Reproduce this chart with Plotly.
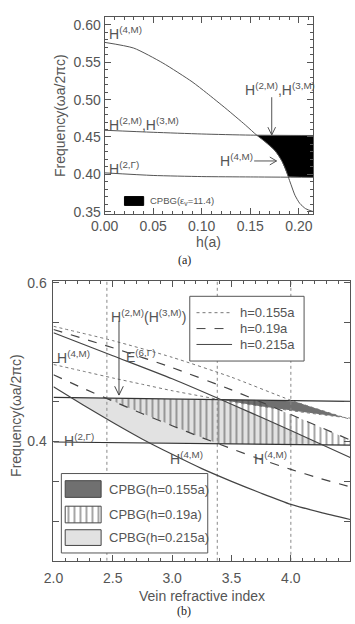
import numpy as np
import plotly.graph_objects as go

W, H = 355, 624

# ---------------- Panel (a) data ----------------
h_a = [0.0, 0.05, 0.10, 0.15, 0.215]
H2M_a = [0.459, 0.4563, 0.4540, 0.4525, 0.452]
H2G_a = [0.402, 0.3985, 0.3970, 0.3965, 0.396]
h_4m = [0.0, 0.03, 0.06, 0.09, 0.105, 0.125, 0.145, 0.157, 0.167, 0.176, 0.182,
        0.186, 0.189, 0.192, 0.196, 0.201, 0.207, 0.215]
H4M_a = [0.5767, 0.569, 0.549, 0.524, 0.509, 0.488, 0.466, 0.452, 0.442, 0.431, 0.419,
         0.408, 0.397, 0.386, 0.372, 0.361, 0.354, 0.350]
xa_ticks = [0.00, 0.05, 0.10, 0.15, 0.20]
xa_text = ["0.00", "0.05", "0.10", "0.15", "0.20"]
ya_ticks = [0.35, 0.40, 0.45, 0.50, 0.55, 0.60]
ya_text = ["0.35", "0.40", "0.45", "0.50", "0.55", "0.60"]

# ---------------- Panel (b) data ----------------
n_hl = [2.0, 4.5]
H2M_b = [0.4555, 0.4505]
H2G_b = [0.3995, 0.3955]
n_up = [2.0, 2.5, 3.0, 3.5, 4.0, 4.5]
E6_155 = [0.545, 0.527, 0.506, 0.481, 0.452, 0.428]
E6_19 = [0.541, 0.518, 0.493, 0.465, 0.434, 0.402]
E6_215 = [0.537, 0.508, 0.479, 0.447, 0.414, 0.380]
n_lo = [2.0, 2.25, 2.5, 2.75, 3.0, 3.25, 3.5, 3.75, 4.0, 4.25, 4.5]
H4_155 = [0.497, 0.4885, 0.480, 0.472, 0.464, 0.457, 0.450, 0.4443, 0.439, 0.434, 0.4295]
H4_19 = [0.484, 0.467, 0.451, 0.435, 0.420, 0.405, 0.391, 0.3775, 0.365, 0.3535, 0.343]
H4_215 = [0.469, 0.446, 0.424, 0.403, 0.384, 0.366, 0.350, 0.335, 0.321, 0.311, 0.302]
vlines_b = [2.45, 3.38, 4.0]
xb_ticks = [2.0, 2.5, 3.0, 3.5, 4.0, 4.5]
xb_text = ["2.0", "2.5", "3.0", "3.5", "4.0", "4.5"]
yb_ticks = [0.4, 0.6]
yb_text = ["0.4", "0.6"]
legend_h = ["h=0.155a", "h=0.19a", "h=0.215a"]
legend_cpbg = ["CPBG(h=0.155a)", "CPBG(h=0.19a)", "CPBG(h=0.215a)"]

# ---------------- layout geometry (pixels) ----------------
A_X0, A_X1, A_Y0, A_Y1 = 94.3, 311.7, 11.7, 212.0
B_X0, B_X1, B_Y0, B_Y1 = 41.1, 350.0, 280.0, 565.7
A_XR, A_YR = [0.0, 0.215], [0.347, 0.61]
B_XR, B_YR = [2.0, 4.5], [0.25, 0.6025]


def ax_(px):
    return A_XR[0] + (px - A_X0) / (A_X1 - A_X0) * (A_XR[1] - A_XR[0])


def ay_(py):
    return A_YR[1] - (py - A_Y0) / (A_Y1 - A_Y0) * (A_YR[1] - A_YR[0])


def bx_(px):
    return B_XR[0] + (px - B_X0) / (B_X1 - B_X0) * (B_XR[1] - B_XR[0])


def by_(py):
    return B_YR[1] - (py - B_Y0) / (B_Y1 - B_Y0) * (B_YR[1] - B_YR[0])


def PX(px):
    return px / W


def PY(py):
    return 1 - py / H


LC = "#444"
AXC = "#555"
FONT = "Liberation Sans, Arial, sans-serif"

fig = go.Figure()


def region(xgrid, top, bot):
    m = top > bot
    xs = xgrid[m]
    return np.concatenate([xs, xs[::-1]]), np.concatenate([top[m], bot[m][::-1]])


# ---------------- Panel (a) ----------------
ga = np.linspace(0.10, 0.215, 600)
top_a = np.interp(ga, h_a, H2M_a)
bot_a = np.maximum(np.interp(ga, h_4m, H4M_a), np.interp(ga, h_a, H2G_a))
rx, ry = region(ga, top_a, bot_a)
fig.add_trace(go.Scatter(x=rx, y=ry, fill="toself", fillcolor="black", mode="lines",
                         line=dict(width=0), xaxis="x", yaxis="y", hoverinfo="skip"))
for yy, xx in [(H4M_a, h_4m), (H2M_a, h_a), (H2G_a, h_a)]:
    fig.add_trace(go.Scatter(x=xx, y=yy, mode="lines",
                             line=dict(color="#555", width=1, shape="spline", smoothing=0.6),
                             xaxis="x", yaxis="y", hoverinfo="skip"))
# legend swatch (a)
sx0, sx1, sy0, sy1 = ax_(115), ax_(135), ay_(194.3), ay_(203.3)
fig.add_trace(go.Scatter(x=[sx0, sx1, sx1, sx0, sx0], y=[sy0, sy0, sy1, sy1, sy0], fill="toself",
                         fillcolor="black", mode="lines", line=dict(color="black", width=1),
                         xaxis="x", yaxis="y", hoverinfo="skip"))

# ---------------- Panel (b) ----------------
gb = np.linspace(2.0, 4.5, 1201)
h2m = np.interp(gb, n_hl, H2M_b)
h2g = np.interp(gb, n_hl, H2G_b)
regs = []
for up, lo in [(E6_215, H4_215), (E6_155, H4_155), (E6_19, H4_19)]:
    t = np.minimum(h2m, np.interp(gb, n_up, up))
    b = np.maximum(h2g, np.interp(gb, n_lo, lo))
    regs.append(region(gb, t, b))
# light gray (0.215)
fig.add_trace(go.Scatter(x=regs[0][0], y=regs[0][1], fill="toself", fillcolor="#e2e2e2",
                         mode="lines", line=dict(width=0), xaxis="x2", yaxis="y2", hoverinfo="skip"))
# dark gray (0.155)
fig.add_trace(go.Scatter(x=regs[1][0], y=regs[1][1], fill="toself", fillcolor="#707070",
                         mode="lines", line=dict(width=0), xaxis="x2", yaxis="y2", hoverinfo="skip"))
# hatched (0.19)
hatch = dict(shape="|", size=6, solidity=0.16, fgcolor="#444", bgcolor="rgba(0,0,0,0)", fillmode="replace")
fig.add_trace(go.Scatter(x=regs[2][0], y=regs[2][1], fill="toself", fillcolor="rgba(0,0,0,0)",
                         fillpattern=hatch, mode="lines", line=dict(width=0),
                         xaxis="x2", yaxis="y2", hoverinfo="skip"))
# vertical dotted lines
for v in vlines_b:
    fig.add_trace(go.Scatter(x=[v, v], y=B_YR, mode="lines", line=dict(color="#888", width=1, dash="dot"),
                             xaxis="x2", yaxis="y2", hoverinfo="skip"))
# horizontal lines
for yy in [H2M_b, H2G_b]:
    fig.add_trace(go.Scatter(x=n_hl, y=yy, mode="lines", line=dict(color="#333", width=1.2),
                             xaxis="x2", yaxis="y2", hoverinfo="skip"))
dashes = ["dot", "dash", "solid"]
for up, lo, d in [(E6_155, H4_155, "dot"), (E6_19, H4_19, "dash"), (E6_215, H4_215, "solid")]:
    w = 1.0 if d == "dot" else 1.2
    c = "#777" if d == "dot" else LC
    fig.add_trace(go.Scatter(x=n_up, y=up, mode="lines",
                             line=dict(color=c, width=w, dash=d, shape="spline", smoothing=0.6),
                             xaxis="x2", yaxis="y2", hoverinfo="skip"))
    fig.add_trace(go.Scatter(x=n_lo, y=lo, mode="lines",
                             line=dict(color=c, width=w, dash=d, shape="spline", smoothing=0.6),
                             xaxis="x2", yaxis="y2", hoverinfo="skip"))


def box(px0, px1, py0, py1, fill, lcolor="#555", pattern=None):
    xs = [bx_(px0), bx_(px1), bx_(px1), bx_(px0), bx_(px0)]
    ys = [by_(py0), by_(py0), by_(py1), by_(py1), by_(py0)]
    kw = {}
    if pattern:
        kw["fillpattern"] = pattern
    fig.add_trace(go.Scatter(x=xs, y=ys, fill="toself", fillcolor=fill, mode="lines",
                             line=dict(color=lcolor, width=1), xaxis="x2", yaxis="y2",
                             hoverinfo="skip", **kw))


annots = []
# legend 1 (line styles)
box(183, 302, 296, 362, "white")
for i, (lab, d) in enumerate(zip(legend_h, dashes)):
    yy = 312.7 + i * 16.2
    fig.add_trace(go.Scatter(x=[bx_(190), bx_(227)], y=[by_(yy), by_(yy)], mode="lines",
                             line=dict(color="#777" if d == "dot" else LC, width=1, dash=d),
                             xaxis="x2", yaxis="y2", hoverinfo="skip"))
    annots.append(dict(x=PX(233), y=PY(yy), text=lab, xanchor="left", yanchor="middle",
                       font=dict(size=13)))
# legend 2 (CPBG)
box(49.3, 201.7, 476.7, 557.7, "white")
sw = [(484, 501), (510, 527), (534, 550)]
box(53.3, 90.7, sw[0][0], sw[0][1], "#707070", "#444")
box(53.3, 90.7, sw[1][0], sw[1][1], "white", "#444",
    pattern=dict(shape="|", size=6, solidity=0.16, fgcolor="#444", bgcolor="white", fillmode="replace"))
box(53.3, 90.7, sw[2][0], sw[2][1], "#e2e2e2", "#444")
for lab, (a, b) in zip(legend_cpbg, sw):
    annots.append(dict(x=PX(96.7), y=PY((a + b) / 2), text=lab, xanchor="left", yanchor="middle",
                       font=dict(size=13)))

# ---------------- Text annotations ----------------
Hs = lambda s: "H<sup>(%s)</sup>" % s
labels = [
    # panel (a)
    (97, 28, Hs("4,M"), "left"),
    (97, 120, Hs("2,M") + "," + Hs("3,M"), "left"),
    (97, 165, Hs("2,Γ"), "left"),
    (276.5, 85, Hs("2,M") + "," + Hs("3,M"), "center"),
    (231.5, 157, Hs("4,M"), "center"),
    # panel (b)
    (140, 316, Hs("2,M") + "(" + Hs("3,M") + ")", "center"),
    (132, 357, "E<sup>(6,Γ)</sup>", "center"),
    (62, 358, Hs("4,M"), "center"),
    (68, 442, Hs("2,Γ"), "center"),
    (180, 461, Hs("4,M"), "center"),
    (267, 461, Hs("4,M"), "center"),
]
for px, py, t, anc in labels:
    annots.append(dict(x=PX(px), y=PY(py), text=t, xanchor=anc, yanchor="middle", font=dict(size=14)))
annots.append(dict(x=PX(140), y=PY(199), text="CPBG(ε<sub>v</sub>=11.4)", xanchor="left",
                   yanchor="middle", font=dict(size=9.5)))
# axis titles
annots += [
    dict(x=PX(203), y=PY(241), text="h(a)", xanchor="center", yanchor="middle", font=dict(size=14)),
    dict(x=PX(48), y=PY(112), text="Frequency(ωa/2πc)", textangle=-90, xanchor="center",
         yanchor="middle", font=dict(size=14)),
    dict(x=PX(196), y=PY(602), text="Vein refractive index", xanchor="center", yanchor="middle",
         font=dict(size=14)),
    dict(x=PX(2), y=PY(417), text="Frequency(ωa/2πc)", textangle=-90, xanchor="center",
         yanchor="middle", font=dict(size=14)),
    dict(x=PX(177), y=PY(258.5), text="(a)", xanchor="center", yanchor="middle",
         font=dict(size=12, family="Liberation Serif, Times New Roman, serif", color="#222")),
    dict(x=PX(177), y=PY(617), text="(b)", xanchor="center", yanchor="middle",
         font=dict(size=12, family="Liberation Serif, Times New Roman, serif", color="#222")),
]
for a in annots:
    a.setdefault("showarrow", False)
    a["xref"] = "paper"
    a["yref"] = "paper"

# arrows (open V heads), in data coordinates derived from pixel positions
arr_a1 = (ax_(268.3), ay_(93.0), ay_(131.5))
arr_a2 = (ax_(250.0), ax_(273.3), ay_(158.0))
arr_b = (bx_(109.3), by_(321.0), by_(396.7))
dxa, dya = ax_(94.3 + 4) - ax_(94.3), ay_(11.7) - ay_(11.7 + 8)
dxa2, dya2 = ax_(94.3 + 7) - ax_(94.3), ay_(11.7) - ay_(11.7 + 4)
dxb, dyb = bx_(41.1 + 4.5) - bx_(41.1), by_(280) - by_(280 + 9)
shapes = [
    dict(type="path", xref="x", yref="y", line=dict(color="#555", width=1),
         path="M %f,%f L %f,%f M %f,%f L %f,%f L %f,%f" % (
             arr_a1[0], arr_a1[1], arr_a1[0], arr_a1[2],
             arr_a1[0] - dxa, arr_a1[2] + dya, arr_a1[0], arr_a1[2], arr_a1[0] + dxa, arr_a1[2] + dya)),
    dict(type="path", xref="x", yref="y", line=dict(color="#555", width=1),
         path="M %f,%f L %f,%f M %f,%f L %f,%f L %f,%f" % (
             arr_a2[0], arr_a2[2], arr_a2[1], arr_a2[2],
             arr_a2[1] - dxa2, arr_a2[2] + dya2, arr_a2[1], arr_a2[2], arr_a2[1] - dxa2, arr_a2[2] - dya2)),
    dict(type="path", xref="x2", yref="y2", line=dict(color="#444", width=1),
         path="M %f,%f L %f,%f M %f,%f L %f,%f L %f,%f" % (
             arr_b[0], arr_b[1], arr_b[0], arr_b[2],
             arr_b[0] - dxb, arr_b[2] + dyb, arr_b[0], arr_b[2], arr_b[0] + dxb, arr_b[2] + dyb)),
]


def axstyle(**kw):
    d = dict(showline=True, linecolor=AXC, linewidth=1, mirror="allticks", ticks="inside",
             ticklen=6, tickcolor=AXC, tickwidth=1, showgrid=False, zeroline=False,
             tickfont=dict(size=14, color=AXC), tickmode="array")
    d.update(kw)
    return d


fig.update_layout(
    width=W, height=H, margin=dict(l=0, r=0, t=0, b=0), showlegend=False,
    paper_bgcolor="white", plot_bgcolor="white",
    font=dict(family=FONT, color=AXC),
    xaxis=axstyle(domain=[PX(A_X0), PX(A_X1)], range=A_XR, anchor="y", tickvals=xa_ticks, ticktext=xa_text,
                  minor=dict(dtick=0.01, ticks="inside", ticklen=3, tickcolor=AXC), ticklabelstandoff=-1),
    yaxis=axstyle(domain=[PY(A_Y1), PY(A_Y0)], range=A_YR, anchor="x", tickvals=ya_ticks, ticktext=ya_text,
                  minor=dict(tick0=0.35, dtick=0.01, ticks="inside", ticklen=3, tickcolor=AXC)),
    xaxis2=axstyle(domain=[PX(B_X0), PX(B_X1)], range=B_XR, anchor="y2", tickvals=xb_ticks, ticktext=xb_text,
                   minor=dict(dtick=0.1, ticks="inside", ticklen=3, tickcolor=AXC), ticklabelstandoff=4),
    yaxis2=axstyle(domain=[PY(B_Y1), PY(B_Y0)], range=B_YR, anchor="x2", tickvals=yb_ticks, ticktext=yb_text,
                   minor=dict(tick0=0.25, dtick=0.05, ticks="inside", ticklen=6, tickcolor=AXC),
                   ticklabelstandoff=3),
    annotations=annots, shapes=shapes,
)
fig.write_html("out.html")
